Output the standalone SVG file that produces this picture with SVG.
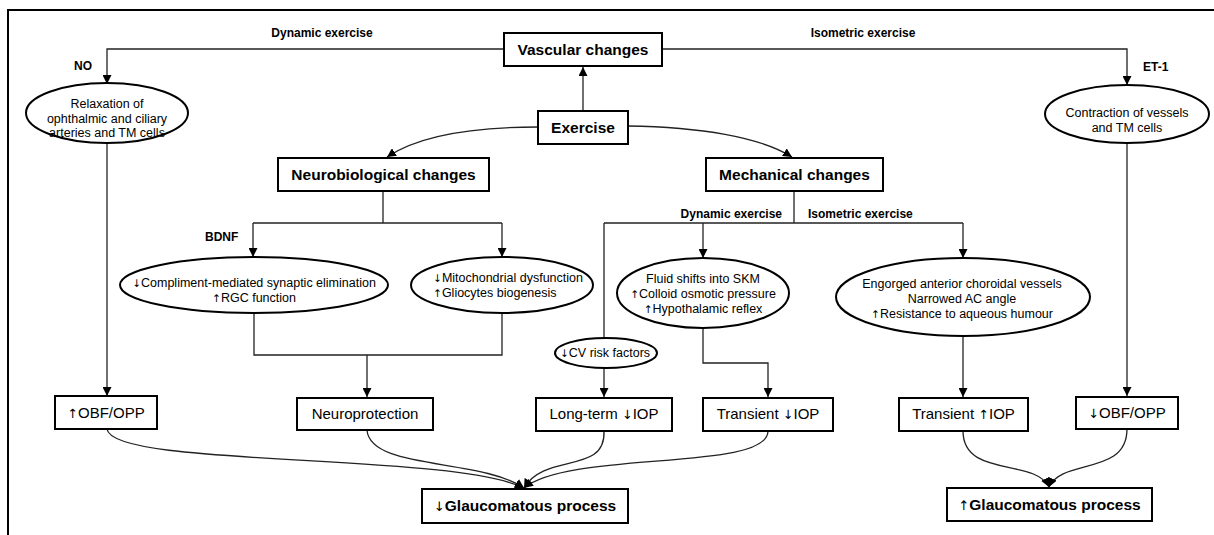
<svg xmlns="http://www.w3.org/2000/svg" width="1214" height="535" viewBox="0 0 1214 535">
<style>
.bx{fill:#fff;stroke:#000;stroke-width:2}
.el{fill:#fff;stroke:#000;stroke-width:2}
.c{fill:none;stroke:#222;stroke-width:1.3}
.t{font-family:"Liberation Sans","DejaVu Sans",Arial,sans-serif;fill:#000}
.tb{font-size:15.5px;font-weight:bold;text-anchor:middle}
.tn{font-size:15px;text-anchor:middle}
.te{font-size:12.5px;text-anchor:middle}
.ts{font-size:12.5px;text-anchor:start}
.tl{font-size:12px;font-weight:bold}
.ar{font-family:"DejaVu Sans",sans-serif;font-weight:normal;font-size:0.85em}
</style>
<defs>
<marker id="ah" viewBox="0 0 10 10" refX="10" refY="5" markerWidth="9" markerHeight="9" markerUnits="userSpaceOnUse" orient="auto">
<path d="M0,0 L10,5 L0,10 Z" fill="#000"/>
</marker>
</defs>
<rect width="1214" height="535" fill="#fff"/>
<path d="M8,535 V10 H1214" fill="none" stroke="#000" stroke-width="2"/>

<g id="connectors">
<path class="c" d="M504,49 H107 V84" marker-end="url(#ah)"/>
<path class="c" d="M662,49 H1127 V85" marker-end="url(#ah)"/>
<path class="c" d="M583,111 V67" marker-end="url(#ah)"/>
<path class="c" d="M538,127 C470,127 418,136 387,157" marker-end="url(#ah)"/>
<path class="c" d="M628,126 C700,127 760,137 792,157" marker-end="url(#ah)"/>
<path class="c" d="M383,191 V223"/>
<path class="c" d="M253,223 H502"/>
<path class="c" d="M253,223 V257" marker-end="url(#ah)"/>
<path class="c" d="M502,223 V257" marker-end="url(#ah)"/>
<path class="c" d="M254,313 V355 H502 V313"/>
<path class="c" d="M367,355 V397" marker-end="url(#ah)"/>
<path class="c" d="M107,143 V396" marker-end="url(#ah)"/>
<path class="c" d="M794,191 V223"/>
<path class="c" d="M604,223 H963"/>
<path class="c" d="M604,223 V338"/>
<path class="c" d="M703,223 V258" marker-end="url(#ah)"/>
<path class="c" d="M963,223 V258" marker-end="url(#ah)"/>
<path class="c" d="M604,368 V397" marker-end="url(#ah)"/>
<path class="c" d="M703,328 V363 H768 V397" marker-end="url(#ah)"/>
<path class="c" d="M963,337 V397" marker-end="url(#ah)"/>
<path class="c" d="M1127,143 V396" marker-end="url(#ah)"/>
<path class="c" d="M107,429 C112,468 450,452 524,488" marker-end="url(#ah)"/>
<path class="c" d="M367,430 C370,470 480,458 524,488" marker-end="url(#ah)"/>
<path class="c" d="M604,431 C606,475 545,452 524,488" marker-end="url(#ah)"/>
<path class="c" d="M768,431 C768,472 570,450 524,488" marker-end="url(#ah)"/>
<path class="c" d="M963,431 C963,478 1035,458 1049,487" marker-end="url(#ah)"/>
<path class="c" d="M1127,429 C1127,476 1062,458 1049,487" marker-end="url(#ah)"/>
</g>

<g id="labels">
<text class="t tl" x="322" y="37" text-anchor="middle">Dynamic exercise</text>
<text class="t tl" x="863" y="37" text-anchor="middle">Isometric exercise</text>
<text class="t tl" x="74" y="70">NO</text>
<text class="t tl" x="1143" y="71">ET-1</text>
<text class="t tl" x="205" y="241">BDNF</text>
<text class="t tl" x="782" y="218" text-anchor="end">Dynamic exercise</text>
<text class="t tl" x="808" y="218">Isometric exercise</text>
</g>

<g id="vascular"><rect class="bx" x="504" y="33" width="158" height="33"/><text class="t tb" x="583" y="55">Vascular changes</text></g>
<g id="exercise"><rect class="bx" x="538" y="111" width="90" height="33"/><text class="t tb" x="583" y="133">Exercise</text></g>
<g id="neurobiological"><rect class="bx" x="278" y="158" width="211" height="33"/><text class="t tb" x="383.5" y="180">Neurobiological changes</text></g>
<g id="mechanical"><rect class="bx" x="706" y="158" width="177" height="33"/><text class="t tb" x="794.5" y="180">Mechanical changes</text></g>

<g id="relaxation"><ellipse class="el" cx="107" cy="113" rx="81" ry="30"/>
<text class="t te" x="107" y="108">Relaxation of</text>
<text class="t te" x="107" y="122.5">ophthalmic and ciliary</text>
<text class="t te" x="107" y="137">arteries and TM cells</text></g>

<g id="contraction"><ellipse class="el" cx="1127" cy="114" rx="82" ry="29"/>
<text class="t te" x="1127" y="117">Contraction of vessels</text>
<text class="t te" x="1127" y="132">and TM cells</text></g>

<g id="compliment"><ellipse class="el" cx="254" cy="285" rx="134" ry="28"/>
<text class="t te" x="254" y="287"><tspan class="ar">↓</tspan>Compliment-mediated synaptic elimination</text>
<text class="t te" x="254" y="302"><tspan class="ar">↑</tspan>RGC function</text></g>

<g id="mitochondrial"><ellipse class="el" cx="502" cy="285" rx="91" ry="28"/>
<text class="t ts" x="433" y="282"><tspan class="ar">↓</tspan>Mitochondrial dysfunction</text>
<text class="t ts" x="433" y="297"><tspan class="ar">↑</tspan>Gliocytes biogenesis</text></g>

<g id="fluid"><ellipse class="el" cx="703" cy="293" rx="86" ry="35"/>
<text class="t te" x="703" y="283">Fluid shifts into SKM</text>
<text class="t te" x="703" y="298"><tspan class="ar">↑</tspan>Colloid osmotic pressure</text>
<text class="t te" x="703" y="313"><tspan class="ar">↑</tspan>Hypothalamic reflex</text></g>

<g id="cvrisk"><ellipse class="el" cx="606" cy="353" rx="51" ry="15"/>
<text class="t te" x="605" y="357"><tspan class="ar">↓</tspan>CV risk factors</text></g>

<g id="engorged"><ellipse class="el" cx="963" cy="297" rx="127" ry="39"/>
<text class="t te" x="962" y="288">Engorged anterior choroidal vessels</text>
<text class="t te" x="962" y="303">Narrowed AC angle</text>
<text class="t te" x="962" y="318"><tspan class="ar">↑</tspan>Resistance to aqueous humour</text></g>

<g id="obf-up"><rect class="bx" x="55" y="396" width="102" height="33"/><text class="t tn" x="106" y="418"><tspan class="ar">↑</tspan>OBF/OPP</text></g>
<g id="neuroprotection"><rect class="bx" x="297" y="398" width="136" height="32"/><text class="t tn" x="365" y="419">Neuroprotection</text></g>
<g id="longterm"><rect class="bx" x="536" y="398" width="136" height="33"/><text class="t tn" x="604" y="419">Long-term <tspan class="ar">↓</tspan>IOP</text></g>
<g id="transient-down"><rect class="bx" x="703" y="398" width="130" height="33"/><text class="t tn" x="768" y="419">Transient <tspan class="ar">↓</tspan>IOP</text></g>
<g id="transient-up"><rect class="bx" x="899" y="398" width="129" height="33"/><text class="t tn" x="963.5" y="419">Transient <tspan class="ar">↑</tspan>IOP</text></g>
<g id="obf-down"><rect class="bx" x="1076" y="397" width="102" height="32"/><text class="t tn" x="1127" y="418"><tspan class="ar">↓</tspan>OBF/OPP</text></g>
<g id="glaucoma-down"><rect class="bx" x="422" y="489" width="206" height="34"/><text class="t tb" x="525" y="511"><tspan class="ar">↓</tspan>Glaucomatous process</text></g>
<g id="glaucoma-up"><rect class="bx" x="947" y="488" width="205" height="33"/><text class="t tb" x="1049.5" y="510"><tspan class="ar">↑</tspan>Glaucomatous process</text></g>
</svg>
